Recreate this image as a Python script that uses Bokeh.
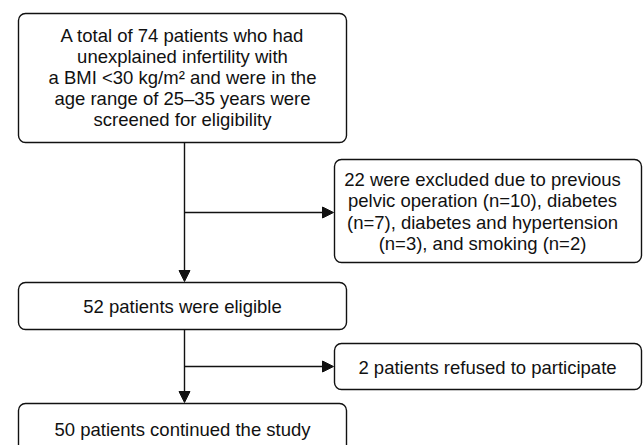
from bokeh.plotting import figure
from bokeh.models import Range1d, Arrow, NormalHead, ColumnDataSource
from bokeh.core.properties import value
from bokeh.embed import file_html
from bokeh.resources import INLINE

# ---- data ----
total_screened = 74
bmi_limit = 30
age_range = ["25", "35"]
excluded_total = 22
excluded_reasons = ["previous pelvic operation", "diabetes", "diabetes and hypertension", "smoking"]
excluded_counts = [10, 7, 3, 2]
eligible = 52
refused = 2
continued = 50

box_texts = [
    f"A total of {total_screened} patients who had\nunexplained infertility with\n"
    f"a BMI <{bmi_limit} kg/m\u00b2 and were in the\nage range of {age_range[0]}\u2013{age_range[1]} years were\n"
    "screened for eligibility",
    f"{excluded_total} were excluded due to {excluded_reasons[0].split(' ')[0]}\n"
    f"{' '.join(excluded_reasons[0].split(' ')[1:])} (n={excluded_counts[0]}), {excluded_reasons[1]}\n"
    f"(n={excluded_counts[1]}), {excluded_reasons[2]}\n"
    f"(n={excluded_counts[2]}), and {excluded_reasons[3]} (n={excluded_counts[3]})",
    f"{eligible} patients were eligible",
    f"{refused} patients refused to participate",
    f"{continued} patients continued the study",
]

# ---- layout (pixel positions) ----
box_left = [18, 334, 18, 334, 18]
box_right = [346, 641, 346, 641, 346]
box_top = [13, 159, 282, 343, 403]
box_bottom = [142, 262, 329, 389, 455]
text_x = [182, 482, 182, 487, 182]
text_y = [77, 211, 306, 367, 429]

p = figure(width=644, height=445, x_range=Range1d(0, 644), y_range=Range1d(445, 0),
           output_backend="svg", toolbar_location=None, min_border=0)
p.axis.visible = False
p.grid.visible = False
p.outline_line_color = None
p.background_fill_color = "white"

box_src = ColumnDataSource(dict(left=box_left, right=box_right, top=box_top, bottom=box_bottom))
p.quad(left="left", right="right", top="top", bottom="bottom", source=box_src,
       fill_color="white", line_color="#111111", line_width=1.4, border_radius=7)

txt_src = ColumnDataSource(dict(x=text_x, y=text_y, t=box_texts))
p.text(x="x", y="y", text="t", source=txt_src, text_align="center", text_baseline="middle",
       text_font=value("Liberation Sans"), text_font_size="18.5px", text_color="#111111",
       text_line_height=1.01)

def arrow(x0, y0, x1, y1):
    p.add_layout(Arrow(end=NormalHead(size=11, fill_color="#111111", line_color="#111111", line_width=1),
                       x_start=x0, y_start=y0, x_end=x1, y_end=y1,
                       line_color="#111111", line_width=1.4))

arrow(184, 142, 184, 281)
arrow(184, 212, 333, 212)
arrow(184, 329, 184, 402)
arrow(184, 366, 333, 366)

open("out.html", "w").write(file_html(p, INLINE))
